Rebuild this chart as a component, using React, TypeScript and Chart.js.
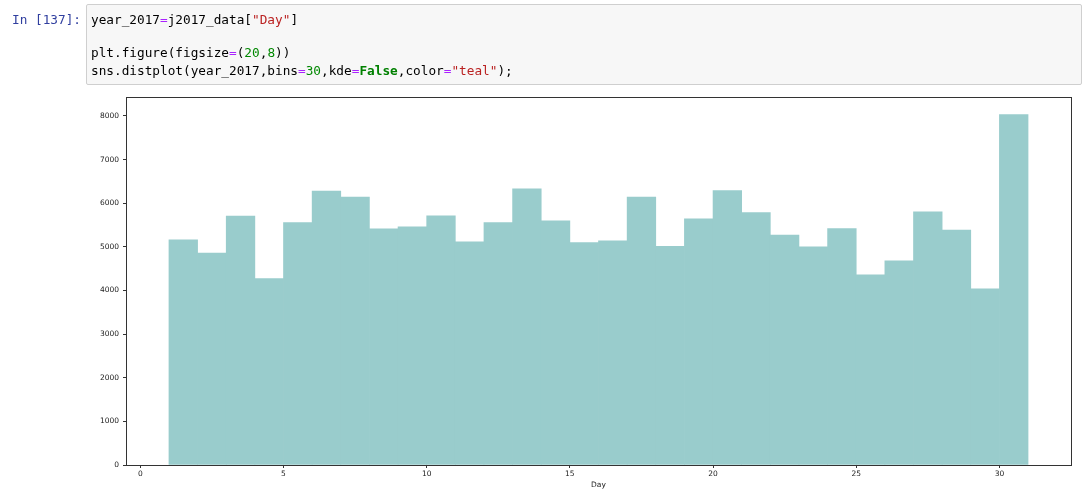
import React, { useEffect, useRef } from "react";
import { Chart, registerables } from "chart.js";

Chart.register(...registerables);

// Histogram of "Day" (30 bins from 1 to 31)
const binStarts = [1, 2, 3, 4, 5, 6, 7, 8, 9, 10, 11, 12, 13, 14, 15, 16, 17, 18, 19, 20, 21, 22, 23, 24, 25, 26, 27, 28, 29, 30];
const binWidth = 1;
const counts = [
  5160, 4855, 5704, 4273, 5557, 6277, 6140, 5413, 5459, 5711,
  5115, 5557, 6330, 5596, 5099, 5138, 6140, 5015, 5642, 6292,
  5787, 5268, 5000, 5420, 4358, 4679, 5803, 5383, 4037, 8034,
];
const xTicks = [0, 5, 10, 15, 20, 25, 30];
const yTicks = [0, 1000, 2000, 3000, 4000, 5000, 6000, 7000, 8000];
const xMin = -0.5;
const xMax = 32.5;
const yMax = 8435;
const xLabel = "Day";

const FONT = "'DejaVu Sans', sans-serif";
const MONO = "'DejaVu Sans Mono', monospace";

const spinePlugin = {
  id: "spines",
  afterDraw(chart: any) {
    const { left, top, right, bottom } = chart.chartArea;
    const ctx = chart.ctx;
    ctx.save();
    ctx.strokeStyle = "#333333";
    ctx.lineWidth = 1;
    const x0 = Math.floor(left) + 0.5;
    const x1 = Math.floor(right) + 0.5;
    const y0 = Math.floor(top) + 0.5;
    const y1 = Math.floor(bottom) + 0.5;
    ctx.strokeRect(x0, y0, x1 - x0, y1 - y0);
    ctx.restore();
  },
};

function HistChart() {
  const ref = useRef<HTMLCanvasElement | null>(null);
  useEffect(() => {
    if (!ref.current) return;
    const data = binStarts.map((s, i) => ({ x: s + binWidth / 2, y: counts[i] }));
    const chart = new Chart(ref.current, {
      type: "bar",
      data: {
        datasets: [
          {
            data: data as any,
            backgroundColor: "#99CCCC",
            borderWidth: 0,
            barPercentage: 1,
            categoryPercentage: 1,
          },
        ],
      },
      options: {
        animation: false,
        responsive: false,
        devicePixelRatio: 1,
        layout: { padding: { left: 0, top: 97, right: 19, bottom: 0 } },
        plugins: { legend: { display: false }, tooltip: { enabled: false } },
        scales: {
          x: {
            type: "linear",
            min: xMin,
            max: xMax,
            offset: false,
            afterBuildTicks: (scale: any) => {
              scale.ticks = xTicks.map((v) => ({ value: v }));
            },
            afterFit: (scale: any) => {
              scale.height = 24;
            },
            grid: {
              display: true,
              offset: false,
              drawOnChartArea: false,
              drawTicks: true,
              tickLength: 3,
              tickColor: "#333333",
              tickWidth: 1,
            },
            border: { display: false },
            ticks: {
              autoSkip: false,
              maxRotation: 0,
              padding: 2,
              color: "#222222",
              callback: (v: any) => String(v),
              font: { family: FONT, size: 7.5, lineHeight: 1.2 },
            },
            title: {
              display: true,
              text: xLabel,
              color: "#222222",
              padding: { top: 0, bottom: 0 },
              font: { family: FONT, size: 7.5, lineHeight: 1 },
            },
          },
          y: {
            type: "linear",
            min: 0,
            max: yMax,
            afterBuildTicks: (scale: any) => {
              scale.ticks = yTicks.map((v) => ({ value: v }));
            },
            afterFit: (scale: any) => {
              scale.width = 126;
            },
            grid: {
              display: true,
              drawOnChartArea: false,
              drawTicks: true,
              tickLength: 3,
              tickColor: "#333333",
              tickWidth: 1,
            },
            border: { display: false },
            ticks: {
              autoSkip: false,
              padding: 4,
              color: "#222222",
              callback: (v: any) => String(v),
              font: { family: FONT, size: 7.5, lineHeight: 1.2 },
            },
          },
        },
      },
      plugins: [spinePlugin],
    });
    return () => chart.destroy();
  }, []);
  return (
    <canvas
      ref={ref}
      width={1090}
      height={489}
      style={{ position: "absolute", left: 0, top: 0, width: 1090, height: 489 }}
    />
  );
}

const C = {
  op: "#AA22FF",
  str: "#BA2121",
  num: "#008800",
  kw: "#008000",
  txt: "#000000",
};

const lineStyle = (top: number): React.CSSProperties => ({
  position: "absolute",
  left: 91,
  top,
  fontFamily: MONO,
  fontSize: 12.74,
  lineHeight: "17px",
  whiteSpace: "pre",
  color: C.txt,
});

export default function App() {
  return (
    <div
      style={{
        position: "fixed",
        left: 0,
        top: 0,
        width: 1090,
        height: 489,
        background: "#ffffff",
        overflow: "hidden",
      }}
    >
      <HistChart />
      <div
        style={{
          position: "absolute",
          left: 86,
          top: 4,
          width: 996,
          height: 81,
          background: "#f7f7f7",
          border: "1px solid #cfcfcf",
          borderRadius: 2,
          boxSizing: "border-box",
        }}
      />
      <div
        style={{
          position: "absolute",
          left: 0,
          width: 81,
          top: 11.4,
          textAlign: "right",
          fontFamily: MONO,
          fontSize: 12.74,
          lineHeight: "17px",
          whiteSpace: "pre",
          color: "#303F9F",
        }}
      >
        In [137]:
      </div>
      <div style={lineStyle(11.4)}>
        year_2017<span style={{ color: C.op }}>=</span>j2017_data[
        <span style={{ color: C.str }}>"Day"</span>]
      </div>
      <div style={lineStyle(44.1)}>
        plt.figure(figsize<span style={{ color: C.op }}>=</span>(
        <span style={{ color: C.num }}>20</span>,<span style={{ color: C.num }}>8</span>))
      </div>
      <div style={lineStyle(61.7)}>
        sns.distplot(year_2017,bins<span style={{ color: C.op }}>=</span>
        <span style={{ color: C.num }}>30</span>,kde<span style={{ color: C.op }}>=</span>
        <span style={{ color: C.kw, fontWeight: "bold" }}>False</span>,color
        <span style={{ color: C.op }}>=</span>
        <span style={{ color: C.str }}>"teal"</span>);
      </div>
    </div>
  );
}
